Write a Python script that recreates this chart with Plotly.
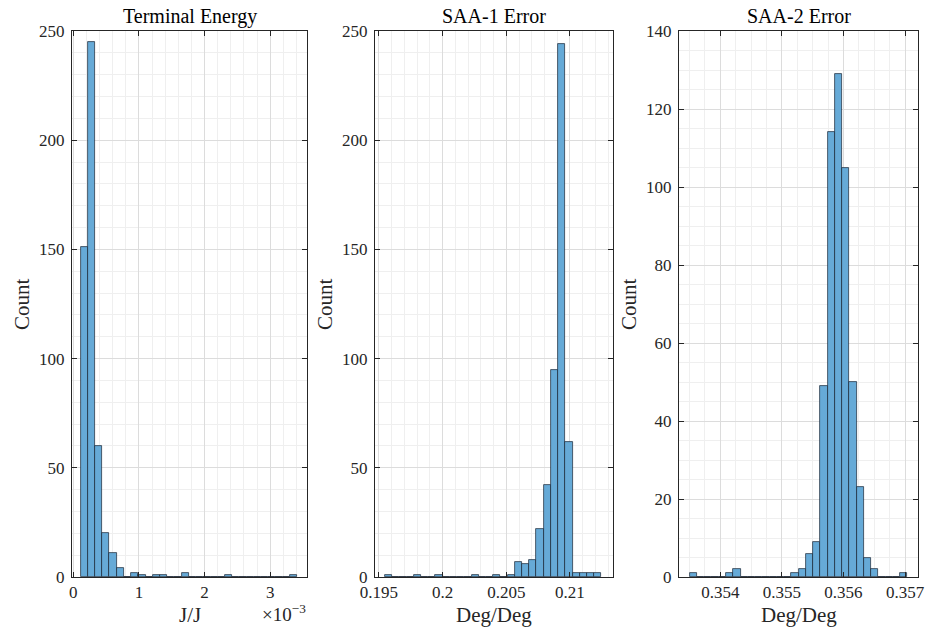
import numpy as np
import plotly.graph_objects as go

# Histogram counts (30 bins each) and bin geometry
energy_counts = [151, 245, 60, 20, 11, 4, 0, 2, 1, 0, 1, 1, 0, 0, 2,
                 0, 0, 0, 0, 0, 1, 0, 0, 0, 0, 0, 0, 0, 0, 1]
energy_bin_start = 0.00011
energy_bin_width = 0.00011

saa1_counts = [1, 0, 0, 0, 1, 0, 0, 1, 0, 0, 0, 0, 1, 0, 0,
               1, 0, 1, 7, 6, 8, 22, 42, 95, 244, 62, 2, 2, 2, 2]
saa1_bin_start = 0.195471
saa1_bin_width = 0.0005667

saa2_counts = [1, 0, 0, 0, 0, 1, 2, 0, 0, 0, 0, 0, 0, 0, 1,
               2, 6, 9, 49, 114, 129, 105, 50, 23, 5, 2, 0, 0, 0, 1]
saa2_bin_start = 0.353504
saa2_bin_width = 0.0001178

titles = ["Terminal Energy", "SAA-1 Error", "SAA-2 Error"]
xlabels = ["J/J", "Deg/Deg", "Deg/Deg"]
energy_tick_vals = [0, 0.001, 0.002, 0.003]
energy_tick_text = ["0", "1", "2", "3"]

FONT = "Liberation Serif"
TXT = "#262626"
BAR_FILL = "#66AAD7"
BAR_EDGE = "rgba(20,30,45,0.85)"

fig = go.Figure()

panels = [
    (energy_counts, energy_bin_start, energy_bin_width),
    (saa1_counts, saa1_bin_start, saa1_bin_width),
    (saa2_counts, saa2_bin_start, saa2_bin_width),
]

for i, (counts, start, width) in enumerate(panels):
    centers = start + width * (np.arange(len(counts)) + 0.5)
    suffix = "" if i == 0 else str(i + 1)
    fig.add_trace(go.Bar(
        x=centers, y=counts, width=width,
        marker=dict(color=BAR_FILL, line=dict(color=BAR_EDGE, width=0.8)),
        xaxis="x" + suffix, yaxis="y" + suffix, showlegend=False,
    ))

W, H = 930, 638
top_px, bot_px = 31, 577
x_px = [(72, 307), (375, 613), (679, 918)]
xranges = [(-0.00002, 0.00356), (0.19469, 0.21338), (0.35333, 0.35721)]
yranges = [(0, 250), (0, 250), (0, 140)]
ydticks = [50, 50, 20]
yminor = [10, 10, 5]
xdticks = [0.001, 0.005, 0.001]
xminor = [0.0002, 0.001, 0.00025]

ydom = [1 - bot_px / H, 1 - top_px / H]
axis_common = dict(
    showline=True, linecolor=TXT, linewidth=1, mirror="ticks",
    ticks="inside", ticklen=5, tickcolor=TXT, tickwidth=1,
    showgrid=True, gridcolor="#dcdcdc", gridwidth=1, zeroline=False,
    tickfont=dict(family=FONT, size=17, color=TXT), automargin=False,
)

layout = dict(
    width=W, height=H, margin=dict(l=0, r=0, t=0, b=0, autoexpand=False),
    paper_bgcolor="white", plot_bgcolor="white", bargap=0,
    annotations=[],
)

for i in range(3):
    suffix = "" if i == 0 else str(i + 1)
    x0, x1 = x_px[i]
    xa = dict(axis_common)
    xa.update(
        domain=[x0 / W, x1 / W], range=list(xranges[i]), anchor="y" + suffix,
        minor=dict(dtick=xminor[i], tick0=0, showgrid=True,
                   gridcolor="#efefef", gridwidth=1, ticks=""),
    )
    if i == 0:
        xa.update(tickvals=energy_tick_vals, ticktext=energy_tick_text)
    else:
        xa.update(dtick=xdticks[i], tick0=0, tickformat="~g")
    ya = dict(axis_common)
    ya.update(
        domain=ydom, range=list(yranges[i]), anchor="x" + suffix,
        dtick=ydticks[i], tick0=0, ticklabelstandoff=3,
        minor=dict(dtick=yminor[i], tick0=0, showgrid=True,
                   gridcolor="#efefef", gridwidth=1, ticks=""),
    )
    layout["xaxis" + suffix] = xa
    layout["yaxis" + suffix] = ya

    cx = (x0 + x1) / 2 / W
    layout["annotations"].append(dict(
        text=titles[i], x=cx, y=1 - 16 / H, xref="paper", yref="paper",
        showarrow=False, xanchor="center", yanchor="middle",
        font=dict(family=FONT, size=20, color="black"),
    ))
    layout["annotations"].append(dict(
        text=xlabels[i], x=cx, y=1 - 615 / H, xref="paper", yref="paper",
        showarrow=False, xanchor="center", yanchor="middle",
        font=dict(family=FONT, size=21, color=TXT),
    ))
    layout["annotations"].append(dict(
        text="Count", x=(x0 - 50) / W, y=1 - 304 / H, xref="paper", yref="paper",
        showarrow=False, xanchor="center", yanchor="middle", textangle=-90,
        font=dict(family=FONT, size=21, color=TXT),
    ))

# Exponent marker for the energy axis
layout["annotations"].append(dict(
    text="×10<sup>−3</sup>", x=308 / W, y=1 - 613 / H, xref="paper", yref="paper",
    showarrow=False, xanchor="right", yanchor="middle",
    font=dict(family=FONT, size=19, color=TXT),
))

fig.update_layout(**layout)
fig.write_html("out.html")
